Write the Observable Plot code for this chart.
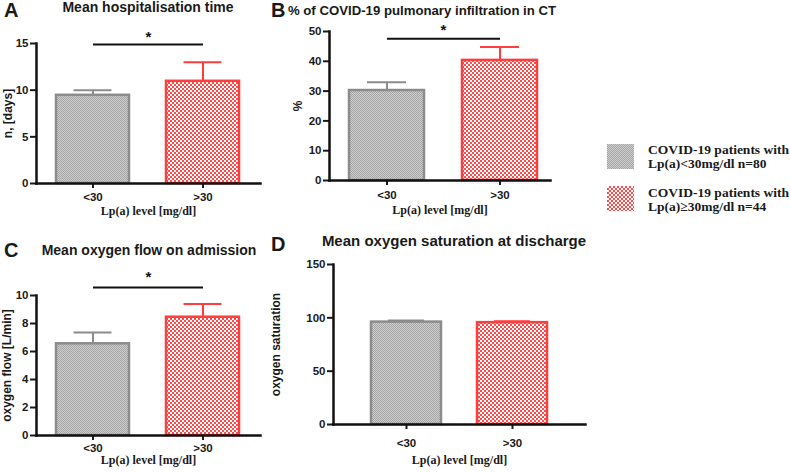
<!DOCTYPE html>
<html>
<head>
<meta charset="utf-8">
<script src="https://cdn.jsdelivr.net/npm/d3@7"></script>
<script src="https://cdn.jsdelivr.net/npm/@observablehq/plot@0.6"></script>
<style>
  body { margin: 0; background: #fff; }
  #root { position: relative; width: 790px; height: 473px; background: #fff; overflow: hidden; color: #1a1a1a; }
  .abs { position: absolute; white-space: nowrap; }
  .title { font-family: "Liberation Sans", Arial, sans-serif; font-weight: bold; line-height: 1; transform: translateX(-50%); }
  .letter { font-family: "Liberation Sans", Arial, sans-serif; font-weight: bold; font-size: 20px; line-height: 1; }
  .leg { font-family: "Liberation Serif", "Times New Roman", serif; font-weight: bold; font-size: 13.5px; line-height: 14px; }
  svg text { font-weight: bold; }
</style>
</head>
<body>
<div id="root">
  <svg width="0" height="0" style="position:absolute">
    <defs>
      <pattern id="gp" width="2" height="2" patternUnits="userSpaceOnUse">
        <rect width="2" height="2" fill="#cdcdcd"/>
        <rect width="1" height="1" fill="#a6a6a6"/>
        <rect x="1" y="1" width="1" height="1" fill="#a6a6a6"/>
      </pattern>
      <pattern id="rp" width="4" height="4" patternUnits="userSpaceOnUse">
        <rect width="4" height="4" fill="#ff4a4a"/>
        <rect width="2" height="2" fill="#ffffff"/>
        <rect x="2" y="2" width="2" height="2" fill="#ffffff"/>
      </pattern>
    </defs>
  </svg>
</div>
<script>
// ---- data ----
const groups = ["<30", ">30"];
const hospMean = [9.45, 10.95];
const hospUpper = [10.0, 13.0];
const infilMean = [30.2, 40.3];
const infilUpper = [33.0, 44.8];
const flowMean = [6.55, 8.45];
const flowUpper = [7.35, 9.4];
const satMean = [96.0, 95.5];
const satUpper = [97.4, 96.8];
const hospTicks = [0, 5, 10, 15];
const infilTicks = [0, 10, 20, 30, 40, 50];
const flowTicks = [0, 2, 4, 6, 8, 10];
const satTicks = [0, 50, 100, 150];
const xLabel = "Lp(a) level [mg/dl]";
const legendLabels = [["COVID-19 patients with", "Lp(a)<30mg/dl n=80"], ["COVID-19 patients with", "Lp(a)\u226530mg/dl n=44"]];

const fills = ["url(#gp)", "url(#rp)"];
const strokes = ["#8c8c8c", "#ff3d3d"];
const fontSans = "Liberation Sans, Arial, sans-serif";
const fontSerif = "Liberation Serif, Times New Roman, serif";
const root = document.getElementById("root");

function panel(c) {
  const rows = groups.map((g, i) => ({group: g, mean: c.mean[i], upper: c.upper[i]}));
  const innerW = c.width - c.ml - c.mr;
  const step = innerW / (2 - c.pi + 2 * c.po);
  const bw = step * (1 - c.pi);
  const marks = [];
  rows.forEach((r, i) => {
    marks.push(Plot.ruleX([r], {x: "group", y1: "mean", y2: "upper", stroke: strokes[i], strokeWidth: 2}));
    marks.push(Plot.tickY([r], {x: "group", y: "upper", stroke: strokes[i], strokeWidth: 2, insetLeft: bw * 0.24, insetRight: bw * 0.24}));
    marks.push(Plot.barY([r], {x: "group", y: "mean", fill: fills[i], stroke: strokes[i], strokeWidth: 2.5}));
  });
  if (c.sig) {
    marks.push(Plot.link([0], {x1: () => groups[0], x2: () => groups[1], y1: () => c.sig[0], y2: () => c.sig[0], stroke: "#111", strokeWidth: 2}));
    marks.push(Plot.text(["*"], {text: d => d, y: () => c.sig[1], dx: c.sig[2] || 0, fontSize: 15, fontWeight: "bold", fontFamily: fontSans, fill: "#111"}));
  }
  marks.push(
    Plot.axisY({ticks: c.ticks, tickSize: 6, tickPadding: 2, fontSize: 11.5, fontWeight: "bold", fontFamily: fontSans, strokeWidth: 2, label: null}),
    Plot.axisX({tickSize: 5, tickPadding: c.xpad, fontSize: 11.5, fontWeight: "bold", fontFamily: fontSans, strokeWidth: 2, label: null}),
    Plot.frame({anchor: "left", strokeWidth: 2.5, stroke: "#111"}),
    Plot.frame({anchor: "bottom", strokeWidth: 2.5, stroke: "#111"}),
    Plot.text([c.ylabel], {text: d => d, frameAnchor: "left", textAnchor: "middle", lineAnchor: "middle", dx: c.ydx, rotate: -90, fontSize: 12, fontWeight: "bold", fontFamily: fontSans}),
    Plot.text([xLabel], {text: d => d, frameAnchor: "bottom", textAnchor: "middle", lineAnchor: "middle", dy: c.xdy, fontSize: 12, fontWeight: "bold", fontFamily: fontSerif})
  );
  const chart = Plot.plot({
    width: c.width, height: c.height,
    marginLeft: c.ml, marginRight: c.mr, marginTop: c.mt, marginBottom: c.mb,
    x: {domain: groups, paddingInner: c.pi, paddingOuter: c.po, align: c.align},
    y: {domain: [0, c.ticks[c.ticks.length - 1]]},
    style: {background: "transparent", color: "#1a1a1a", overflow: "visible", fontWeight: "bold"},
    marks
  });
  chart.style.position = "absolute";
  chart.style.left = c.left + "px";
  chart.style.top = c.top + "px";
  root.appendChild(chart);
}

panel({left: 0, top: 0, width: 270, height: 230, ml: 36, mr: 10, mt: 43, mb: 47,
  pi: 0.336, po: 0.186, align: 0.5, mean: hospMean, upper: hospUpper, ticks: hospTicks,
  ylabel: "n, [days]", ydx: -28, xdy: 28, xpad: 4, sig: [14.9, 15.7]});
panel({left: 270, top: 0, width: 290, height: 230, ml: 59, mr: 10, mt: 31, mb: 50,
  pi: 0.339, po: 0.143, align: 0.615, mean: infilMean, upper: infilUpper, ticks: infilTicks,
  ylabel: "%", ydx: -31, xdy: 30, xpad: 5, sig: [47.6, 50.6, 3.5]});
panel({left: 0, top: 230, width: 270, height: 243, ml: 36, mr: 10, mt: 65, mb: 38,
  pi: 0.336, po: 0.186, align: 0.5, mean: flowMean, upper: flowUpper, ticks: flowTicks,
  ylabel: "oxygen flow [L/min]", ydx: -29, xdy: 25, xpad: 3, sig: [10.57, 11.3]});
panel({left: 270, top: 230, width: 320, height: 243, ml: 63, mr: 5, mt: 34, mb: 49,
  pi: 0.338, po: 0.352, align: 0.5, mean: satMean, upper: satUpper, ticks: satTicks,
  ylabel: "oxygen saturation", ydx: -57, xdy: 36, xpad: 9, sig: null});

// ---- titles and panel letters ----
function addText(cls, txt, left, top, fs) {
  const d = document.createElement("div");
  d.className = "abs " + cls;
  d.textContent = txt;
  d.style.left = left + "px";
  d.style.top = top + "px";
  if (fs) d.style.fontSize = fs + "px";
  root.appendChild(d);
}
addText("title", "Mean hospitalisation time", 148, 0, 14);
addText("title", "% of COVID-19 pulmonary infiltration in CT", 422, 3.5, 13.2);
addText("title", "Mean oxygen flow on admission", 149, 243, 14);
addText("title", "Mean oxygen saturation at discharge", 454, 232.5, 15);
addText("letter", "A", 4, 0);
addText("letter", "B", 271, 0);
addText("letter", "C", 4, 239.5);
addText("letter", "D", 271, 234);

// ---- legend ----
const legTops = [[144, 143], [186, 186]];
legendLabels.forEach((lines, i) => {
  const ns = "http://www.w3.org/2000/svg";
  const s = document.createElementNS(ns, "svg");
  s.setAttribute("width", 27); s.setAttribute("height", 25);
  s.style.position = "absolute"; s.style.left = "607px"; s.style.top = legTops[i][0] + "px";
  const r = document.createElementNS(ns, "rect");
  r.setAttribute("width", 27); r.setAttribute("height", 25); r.setAttribute("fill", fills[i]);
  s.appendChild(r);
  root.appendChild(s);
  const d = document.createElement("div");
  d.className = "abs leg";
  d.style.left = "648px"; d.style.top = legTops[i][1] + "px";
  d.innerHTML = lines.join("<br>");
  root.appendChild(d);
});
</script>
</body>
</html>
